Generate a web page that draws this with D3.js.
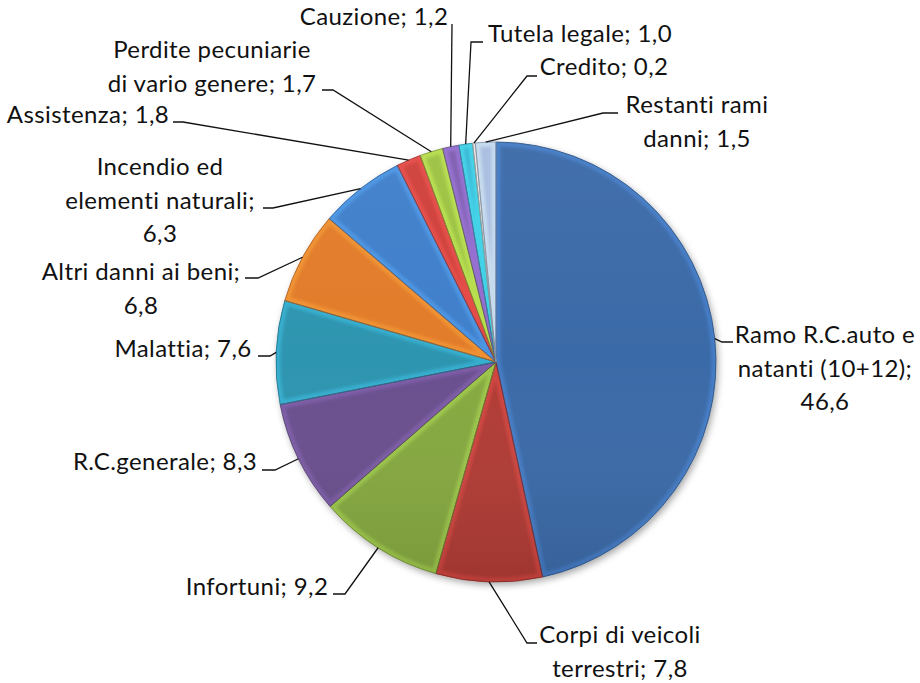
<!DOCTYPE html>
<html>
<head>
<meta charset="utf-8">
<script src="https://cdn.jsdelivr.net/npm/d3@7"></script>
<style>
  body { margin: 0; background: #fff; }
  svg text { font-family: Lato, "Open Sans", sans-serif; font-size: 24px; letter-spacing: 0.4px;
             font-variant-ligatures: none; fill: #111; }
</style>
</head>
<body>
<svg id="chart" width="920" height="683"></svg>
<script>
// Rami danni, quota % (clockwise from 12 o'clock)
const categories = [
  "Ramo R.C.auto e natanti (10+12)", "Corpi di veicoli terrestri", "Infortuni",
  "R.C.generale", "Malattia", "Altri danni ai beni", "Incendio ed elementi naturali",
  "Assistenza", "Perdite pecuniarie di vario genere", "Cauzione", "Tutela legale",
  "Credito", "Restanti rami danni"
];
const values = [46.6, 7.8, 9.2, 8.3, 7.6, 6.8, 6.3, 1.8, 1.7, 1.2, 1.0, 0.2, 1.5];

const palette = ["#3a6aa8", "#b13a35", "#86a93f", "#6a4f8e", "#2f95b0", "#e27b2b", "#3f7fcb",
                 "#cf403b", "#9cc243", "#7e5db0", "#35b3d3", "#d8cfc6", "#a8bde0"];

// label placement: block centre x, first baseline, words per line, leader elbow points
const labelLayout = [
  { cx: 825, y: 343, lines: [3, 2, 1], leader: [[722, 342], [733, 342]] },
  { cx: 620, y: 643, lines: [3, 2],    leader: [[527, 643], [537, 643]] },
  { cx: 257, y: 595, lines: [2],       leader: [[345, 594], [333, 594]] },
  { cx: 165, y: 470, lines: [2],       leader: [[275, 470], [262, 470]] },
  { cx: 183, y: 357, lines: [2],       leader: [[270, 356], [258, 356]] },
  { cx: 141, y: 280, lines: [4, 1],    leader: [[258, 278], [245, 278]] },
  { cx: 160, y: 175, lines: [2, 2, 1], leader: [[273, 208], [263, 208]] },
  { cx: 88,  y: 123, lines: [2],       leader: [[183, 122], [173, 122]] },
  { cx: 212, y: 58,  lines: [2, 4],    leader: [[333, 90], [322, 90]] },
  { cx: 374, y: 25,  lines: [2],       leader: [[452, 24]] },
  { cx: 580, y: 42,  lines: [3],       leader: [[471, 42], [483, 42]] },
  { cx: 604, y: 75,  lines: [2],       leader: [[527, 76], [537, 76]] },
  { cx: 697, y: 113, lines: [2, 2],    leader: [[603, 113], [618, 113]] }
];

const cx = 496, cy = 362, R = 220, LINE_H = 33.5;

const svg = d3.select("#chart");
const fmt = v => d3.format(".1f")(v).replace(".", ",");

const defs = svg.append("defs");
const shadow = defs.append("filter").attr("id", "pie-shadow")
  .attr("x", "-10%").attr("y", "-10%").attr("width", "120%").attr("height", "120%");
shadow.append("feDropShadow").attr("dx", 2).attr("dy", 3).attr("stdDeviation", 3.5)
  .attr("flood-color", "#000").attr("flood-opacity", 0.35);

const soft = defs.append("filter").attr("id", "soft")
  .attr("x", "-20%").attr("y", "-20%").attr("width", "140%").attr("height", "140%");
soft.append("feGaussianBlur").attr("stdDeviation", 1.8);

const shade = defs.append("linearGradient").attr("id", "pie-shade")
  .attr("x1", 0).attr("y1", 0).attr("x2", 0).attr("y2", 1);
shade.append("stop").attr("offset", "0%").attr("stop-color", "#fff").attr("stop-opacity", 0.04);
shade.append("stop").attr("offset", "50%").attr("stop-color", "#fff").attr("stop-opacity", 0);
shade.append("stop").attr("offset", "100%").attr("stop-color", "#000").attr("stop-opacity", 0.1);

const data = categories.map((c, i) => ({ name: c, v: values[i] }));
const pie = d3.pie().sort(null).value(d => d.v);
const arcs = pie(data);
const arc = d3.arc().innerRadius(0).outerRadius(R);
const edge = d3.arc().innerRadius(R).outerRadius(R);

const g = svg.append("g").attr("transform", `translate(${cx},${cy})`);
const slices = g.append("g").attr("filter", "url(#pie-shadow)");

arcs.forEach((a, i) => {
  defs.append("clipPath").attr("id", "clip" + i).append("path").attr("d", arc(a));
});

slices.selectAll("path.slice")
  .data(arcs)
  .join("path")
  .attr("class", "slice")
  .attr("d", arc)
  .attr("fill", d => palette[d.index]);

// bevel: soft light rim inside each slice, darker hairline between slices
g.append("g").selectAll("g.rim")
  .data(arcs)
  .join("g")
  .attr("class", "rim")
  .attr("clip-path", d => `url(#clip${d.index})`)
  .append("path")
  .attr("d", arc)
  .attr("filter", "url(#soft)")
  .attr("fill", "none")
  .attr("stroke", d => d3.color(palette[d.index]).brighter(0.9))
  .attr("stroke-opacity", 0.45)
  .attr("stroke-width", 9);

g.append("g").selectAll("path.edge")
  .data(arcs)
  .join("path")
  .attr("class", "edge")
  .attr("d", arc)
  .attr("fill", "none")
  .attr("stroke", d => d3.color(palette[d.index]).darker(0.8))
  .attr("stroke-width", 0.8);

g.append("circle").attr("r", R).attr("fill", "url(#pie-shade)").attr("pointer-events", "none");

// leader lines
const leaders = svg.append("g").attr("fill", "none").attr("stroke", "#111").attr("stroke-width", 1.3);
arcs.forEach((a, i) => {
  const p = edge.centroid(a);
  const pts = [[cx + p[0], cy + p[1]], ...labelLayout[i].leader];
  leaders.append("path").attr("d", d3.line()(pts));
});

// labels
const labels = svg.append("g");
arcs.forEach((a, i) => {
  const L = labelLayout[i];
  const words = (a.data.name + "; " + fmt(a.data.v)).split(" ");
  const t = labels.append("text").attr("text-anchor", "middle");
  let k = 0;
  L.lines.forEach((n, li) => {
    t.append("tspan").attr("x", L.cx).attr("y", L.y + li * LINE_H)
      .text(words.slice(k, k + n).join(" "));
    k += n;
  });
});
</script>
</body>
</html>
